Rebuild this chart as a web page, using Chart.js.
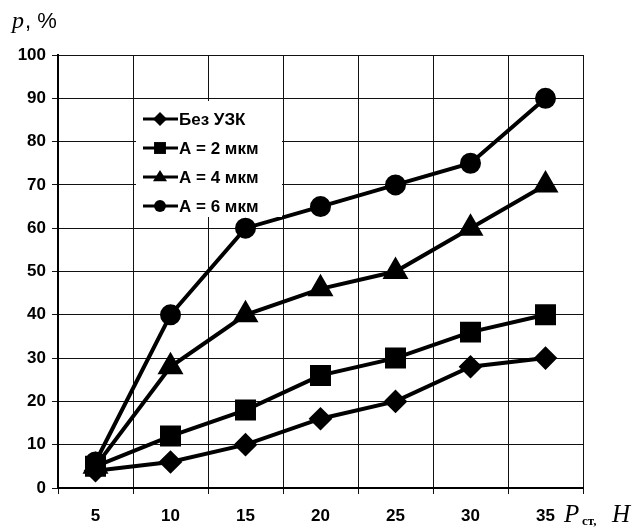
<!DOCTYPE html>
<html>
<head>
<meta charset="utf-8">
<script src="https://cdn.jsdelivr.net/npm/chart.js@4/dist/chart.umd.min.js"></script>
<style>
  html, body { margin: 0; padding: 0; background: #fff; }
  #wrap { width: 637px; height: 528px; position: relative; }
</style>
</head>
<body>
<div id="wrap"><canvas id="grafica" width="637" height="528"></canvas></div>
<script>
// нагрузка, Н
const cargas = ['5', '10', '15', '20', '25', '30', '35'];
const bezUzk = [4, 6, 10, 16, 20, 28, 30];
const a2 = [5, 12, 18, 26, 30, 36, 40];
const a4 = [5, 28, 40, 46, 50, 60, 70];
const a6 = [6, 40, 60, 65, 70, 75, 90];
const nombres = ['Без УЗК', 'A = 2 мкм', 'A = 4 мкм', 'A = 6 мкм'];
const marcas = ['rectRot', 'rect', 'triangle', 'circle'];
const radios = [9, 12, 11, 8.5];

const series = [bezUzk, a2, a4, a6];

function marca(ctx, tipo, x, y, r) {
  ctx.beginPath();
  if (tipo === 'rectRot') {
    ctx.moveTo(x, y - r); ctx.lineTo(x + r, y); ctx.lineTo(x, y + r); ctx.lineTo(x - r, y);
  } else if (tipo === 'rect') {
    let s = r * 0.85;
    ctx.rect(x - s, y - s, 2 * s, 2 * s);
  } else if (tipo === 'triangle') {
    ctx.moveTo(x, y - r); ctx.lineTo(x + r, y + r * 0.6); ctx.lineTo(x - r, y + r * 0.6);
  } else {
    ctx.arc(x, y, r * 0.85, 0, Math.PI * 2);
  }
  ctx.closePath();
  ctx.fill();
}

const leyenda = {
  id: 'leyenda',
  afterDatasetsDraw(chart) {
    const ctx = chart.ctx;
    ctx.save();
    ctx.fillStyle = '#fff';
    ctx.fillRect(136, 101, 146, 116);
    ctx.font = 'bold 17px "Liberation Sans", Arial, sans-serif';
    ctx.textBaseline = 'middle';
    for (let i = 0; i < nombres.length; i++) {
      let y = 119 + i * 29;
      ctx.strokeStyle = '#000';
      ctx.lineWidth = 3;
      ctx.beginPath(); ctx.moveTo(143, y); ctx.lineTo(178, y); ctx.stroke();
      ctx.fillStyle = '#000';
      marca(ctx, marcas[i], 160, y, 7);
      ctx.fillText(nombres[i], 179, y + 1);
    }
    ctx.restore();
  },
  afterDraw(chart) {
    const ctx = chart.ctx;
    ctx.save();
    ctx.fillStyle = '#000';
    ctx.textBaseline = 'alphabetic';
    ctx.font = 'italic 24px "Liberation Serif", serif';
    ctx.fillText('p', 12, 28);
    ctx.font = '22px "Liberation Sans", sans-serif';
    ctx.fillText(', %', 25, 28);
    ctx.font = 'italic 25px "Liberation Serif", serif';
    ctx.fillText('P', 564, 522);
    ctx.font = 'bold 13px "Liberation Serif", serif';
    ctx.fillText('ст,', 582, 525);
    ctx.font = 'italic 25px "Liberation Serif", serif';
    ctx.fillText('H', 612, 522);
    ctx.restore();
  }
};

const context = document.getElementById('grafica').getContext('2d');
const config = {
  type: 'line',
  data: {
    labels: cargas,
    datasets: series.map((d, i) => ({
      label: nombres[i],
      data: d,
      borderColor: '#000',
      backgroundColor: '#000',
      borderWidth: 4,
      pointStyle: marcas[i],
      pointRadius: radios[i],
      pointHoverRadius: radios[i],
      tension: 0
    }))
  },
  options: {
    responsive: false,
    animation: false,
    events: [],
    layout: { padding: { top: 55, right: 54, left: 0, bottom: 0 } },
    plugins: { legend: { display: false }, tooltip: { enabled: false } },
    scales: {
      x: {
        offset: true,
        grid: { offset: true, color: '#111', lineWidth: 1, tickLength: 6, tickColor: '#111' },
        border: { color: '#000', width: 2 },
        ticks: { color: '#000', padding: 12, font: { family: '"Liberation Sans", Arial', size: 17, weight: 'bold' } },
        afterFit(s) { s.height = 40; }
      },
      y: {
        min: 0, max: 100,
        grid: { color: '#111', lineWidth: 1, tickLength: 6, tickColor: '#111' },
        border: { color: '#000', width: 2 },
        ticks: { stepSize: 10, color: '#000', padding: 6, font: { family: '"Liberation Sans", Arial', size: 17, weight: 'bold' } },
        afterFit(s) { s.width = 58; }
      }
    }
  },
  plugins: [leyenda]
};
window.myChart = new Chart(context, config);
</script>
</body>
</html>
